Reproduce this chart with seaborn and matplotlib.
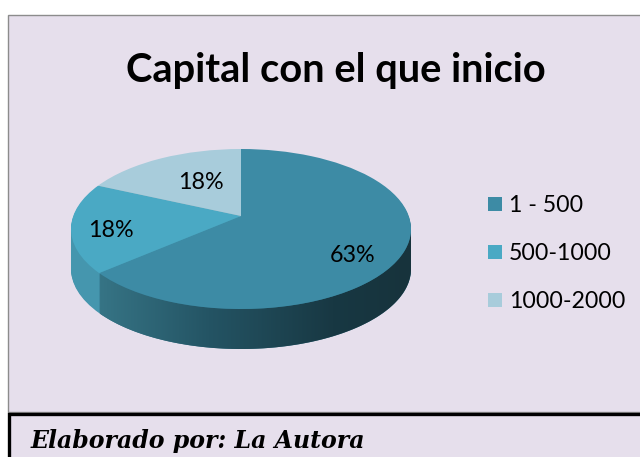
import numpy as np
import matplotlib
matplotlib.use("Agg")
import matplotlib.pyplot as plt
from matplotlib.patches import Rectangle, Polygon
from matplotlib.transforms import Transform, Affine2D
import seaborn as sns

categories = ["1 - 500", "500-1000", "1000-2000"]
values = [63, 18, 18]
labels = ["63%", "18%", "18%"]
colors = ["#3D8BA5", "#4AA9C4", "#A8CCDB"]
side_colors = ["#2F6F85", "#4596AE", "#86AAB6"]
title = "Capital con el que inicio"
footer = "Elaborado por: La Autora"


class Perspective(Transform):
    """Tilts the unit disc so its centre moves towards the back, as in a 3D pie."""
    input_dims = output_dims = 2
    is_separable = False
    has_inverse = False

    def __init__(self, a):
        super().__init__()
        self.a = a

    def transform_non_affine(self, xy):
        xy = np.asarray(xy, dtype=float)
        u, v = xy[:, 0], xy[:, 1]
        den = 1 + self.a * v
        return np.c_[u * np.sqrt(1 - self.a ** 2) / den, (v + self.a) / den]


sns.set_theme(style="white")
W, H = 640, 457
fig = plt.figure(figsize=(6.4, 4.57), dpi=100, facecolor="white")

bg = fig.add_axes([0, 0, 1, 1])
bg.set_xlim(0, W); bg.set_ylim(H, 0); bg.axis("off")
bg.add_patch(Rectangle((8, 15), 640, 397, fc="#E6DFEC", ec="#8C8C8C", lw=1))
bg.add_patch(Rectangle((8.5, 413.5), 640, 60, fc="#E6DFEC", ec="black", lw=2.4))
bg.text(336, 70.5, title, ha="center", va="center", fontsize=28.7, fontweight="bold",
        family="Lato", color="black")
bg.text(31, 441, footer, ha="left", va="center", fontsize=17, fontweight="bold",
        style="italic", family="DejaVu Serif", color="black")

rx, ry, depth = 170, 80, 40
cx, cy = 241, 229
pie = fig.add_axes([0, 0, 1, 1], zorder=2)
pie.patch.set_alpha(0)


def reset():
    pie.set_xlim(-cx, W - cx)
    pie.set_ylim(-(H - cy), cy)
    pie.set_aspect("auto")
    pie.axis("off")


def draw(cols, d, z):
    wedges, _ = pie.pie(values, colors=cols, startangle=90, counterclock=False,
                        radius=1, frame=True, wedgeprops=dict(lw=0, zorder=z))
    tr = Perspective(0.1625) + Affine2D().scale(rx, ry).translate(0, -d) + pie.transData
    for p in wedges:
        p.set_transform(tr)


for d in range(depth, 0, -1):
    draw(side_colors, d, 1)
reset()

# shaded wall of the large slice, clipped to the wall silhouette
th = np.linspace(np.pi, 2 * np.pi, 200)
xs, ys = rx * np.cos(th), ry * np.sin(th)
clip = Polygon(np.r_[np.c_[xs, ys], np.c_[xs[::-1], ys[::-1] - depth]],
               transform=pie.transData, fc="none", ec="none")
pie.add_patch(clip)
pos = np.linspace(0, 1, 256)
stops = [0, 0.35, 0.75, 1]
rgba = np.zeros((1, 256, 4))
rgba[0, :, 0] = np.interp(pos, stops, [0x36, 0x24, 0x18, 0x17]) / 255
rgba[0, :, 1] = np.interp(pos, stops, [0x74, 0x54, 0x38, 0x33]) / 255
rgba[0, :, 2] = np.interp(pos, stops, [0x85, 0x64, 0x43, 0x3C]) / 255
rgba[0, :, 3] = 1
im = pie.imshow(rgba, extent=(-141, rx, -ry - depth, 0), aspect="auto", zorder=2)
im.set_clip_path(clip)
reset()

draw(colors, 0, 4)
reset()

for (px, py), t in zip([(353, 255.5), (111, 230.5), (201, 182.5)], labels):
    pie.text(px - cx, cy - py, t, ha="center", va="center", fontsize=16.8,
             family="Lato", color="black", zorder=6)

for yy, c, name in zip([204, 252, 300], colors, categories):
    bg.add_patch(Rectangle((488, yy - 7), 14, 14, fc=c, ec="none"))
    bg.text(509, yy + 1, name, ha="left", va="center", fontsize=16.7, family="Lato", color="black")

fig.savefig("out.png", dpi=100, facecolor="white")
